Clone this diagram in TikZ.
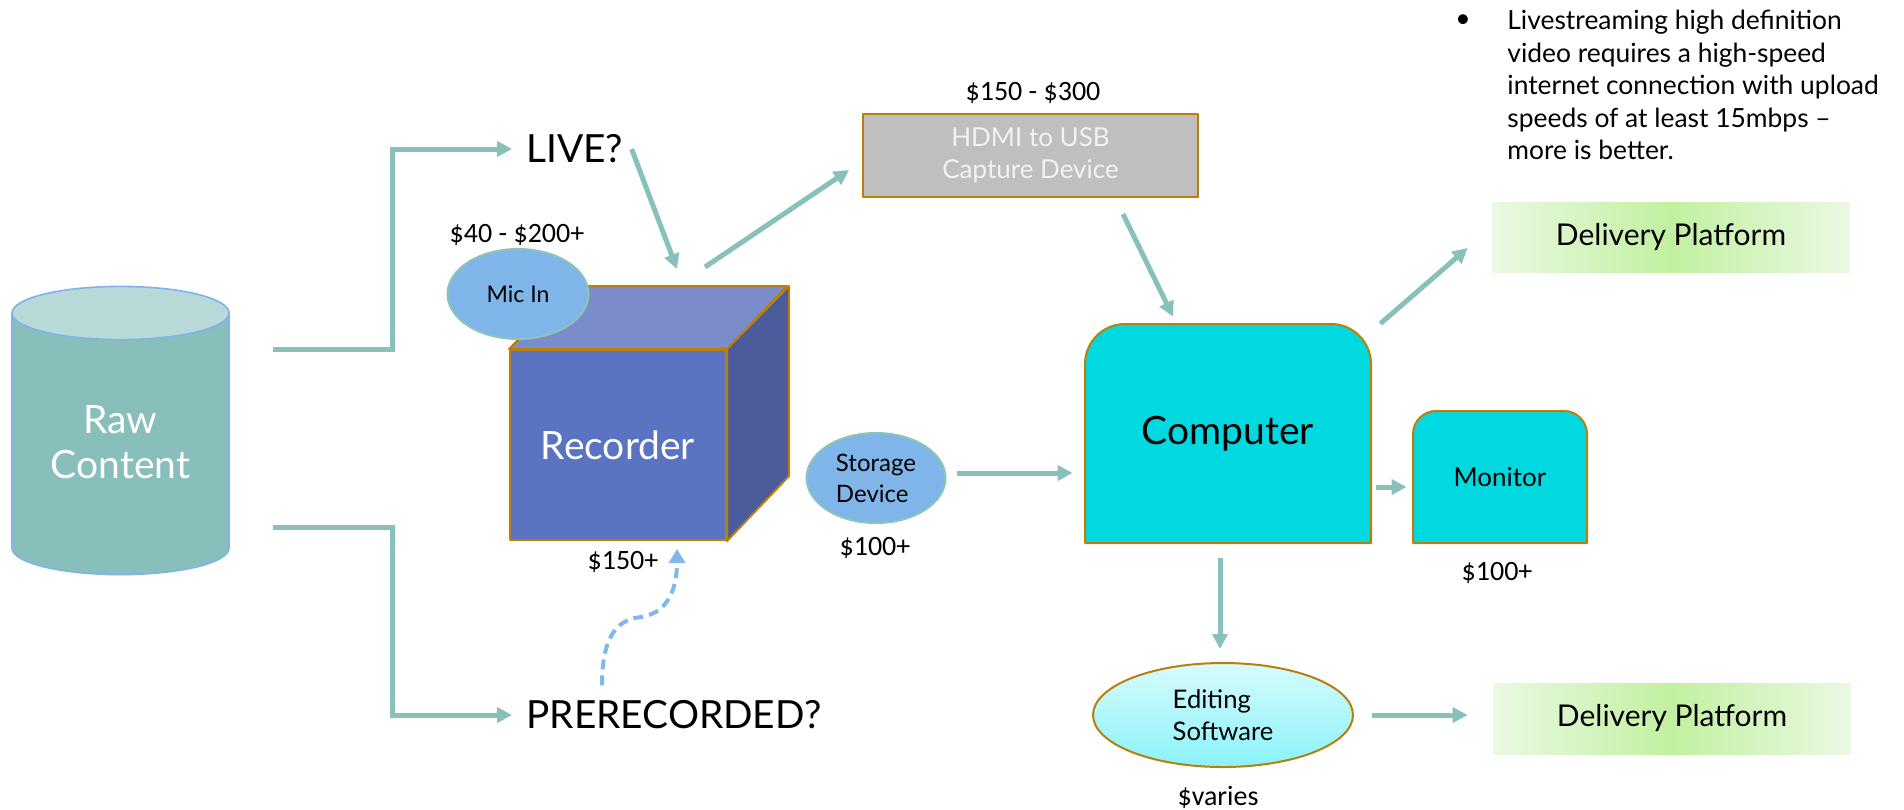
\documentclass[tikz,border=0pt]{standalone}
\usepackage{fontspec}
\setmainfont{Lato}
\newfontfamily\pricefont{Carlito}
\usetikzlibrary{arrows.meta,calc,shapes.geometric}
\definecolor{arrowc}{HTML}{88C0BA}
\definecolor{cylbody}{HTML}{88BFBA}
\definecolor{cyltop}{HTML}{B7D9D7}
\definecolor{cyledge}{HTML}{7FB3E9}
\definecolor{recfront}{HTML}{5B74C2}
\definecolor{rectop}{HTML}{7A8DCA}
\definecolor{recside}{HTML}{4A5C9B}
\definecolor{goldedge}{HTML}{BA7F0A}
\definecolor{micfill}{HTML}{80B5EA}
\definecolor{micedge}{HTML}{8CC4B8}
\definecolor{hdmifill}{HTML}{BFBFBF}
\definecolor{compfill}{HTML}{00D9E0}
\definecolor{edtop}{HTML}{D6FBFD}
\definecolor{edbot}{HTML}{8AF3F9}
\definecolor{dellight}{HTML}{EAF9E3}
\definecolor{delmid}{HTML}{C2F0A0}
\definecolor{dashc}{HTML}{80B8EE}
\begin{document}
\begin{tikzpicture}[x=0.5pt,y=-0.5pt,
  arr/.style={draw=arrowc,line width=2.5pt,-{Triangle[length=7.5pt,width=7.5pt]}},
  dasharr/.style={draw=dashc,line width=2pt,dash pattern=on 5pt off 3pt,-{Triangle[length=7pt,width=8pt]}},
  price/.style={inner sep=0pt,font=\pricefont\fontsize{14pt}{16pt}\selectfont},
  big/.style={inner sep=0pt,font=\fontsize{19.4pt}{22.5pt}\selectfont},
  goldline/.style={draw=goldedge,line width=1pt,line join=round},
  bubble/.style={ellipse,draw=micedge,line width=1pt,fill=micfill,inner sep=0pt},
  delbox/.style={left color=dellight,right color=dellight,middle color=delmid,
    minimum width=179pt,minimum height=35pt,inner sep=0pt,font=\fontsize{15pt}{17pt}\selectfont}
]
\useasboundingbox (0,0) rectangle (1904,809);
\fill[white] (0,0) rectangle (1904,809);

% Raw content cylinder
\fill[cylbody] (12,313) -- (12,548) arc[start angle=180,end angle=360,x radius=54.25pt,y radius=13.3pt] -- (229,313) -- cycle;
\draw[cyledge,line width=0.8pt] (12,313) -- (12,548) arc[start angle=180,end angle=360,x radius=54.25pt,y radius=13.3pt] -- (229,313);
\draw[cyledge,line width=0.8pt,fill=cyltop] (120.5,313) ellipse[x radius=54.25pt,y radius=13.3pt];
\node[text=white,align=center,minimum width=108.5pt,inner sep=0pt,font=\fontsize{19.5pt}{22.5pt}\selectfont] (raw) at (120.5,442) {Raw\\Content};

% Questions
\node[big,anchor=west] (live) at (526,149) {LIVE?};
\node[big,anchor=west] (prerec) at (526,715) {PRERECORDED?};

% Recorder cube
\node[goldline,fill=recfront,minimum width=108pt,minimum height=95pt,inner sep=0pt,text=white,
  font=\fontsize{19.5pt}{22pt}\selectfont] (rec) at (618,445) {Recorder};
\draw[goldline,fill=rectop] (rec.north west) -- ++(31pt,31.5pt) -- ++(108pt,0) -- (rec.north east) -- cycle;
\draw[goldline,fill=recside] (rec.north east) -- ++(31pt,31.5pt) -- ++(0,-95pt) -- (rec.south east) -- cycle;

% Mic In
\node[bubble,minimum width=70.5pt,minimum height=45pt,font=\fontsize{11.5pt}{14pt}\selectfont] (mic) at (518,294) {Mic In};
\node[price] (p1) at (517,235) {\$40 - \$200+};

% HDMI capture
\node[goldline,fill=hdmifill,minimum width=167.5pt,minimum height=41.5pt,inner sep=0pt,
  text=white!95!black,align=center,font=\fontsize{13pt}{16pt}\selectfont] (hdmi) at (1030.5,155.5) {HDMI to USB\\Capture Device};
\node[price] (p2) at (1033,93) {\$150 - \$300};

% Computer
\draw[goldline,fill=compfill] (1085,543) -- (1085,364) arc[start angle=180,end angle=90,radius=20pt]
  -- (1331,324) arc[start angle=90,end angle=0,radius=20pt] -- (1371,543) -- cycle;
\node[minimum width=143pt,minimum height=109.5pt,inner sep=0pt,font=\fontsize{19.5pt}{23pt}\selectfont] (comp) at (1228,433.5) {Computer};

% Monitor
\draw[goldline,fill=compfill] (1413,543) -- (1413,434) arc[start angle=180,end angle=90,radius=11.5pt]
  -- (1564,411) arc[start angle=90,end angle=0,radius=11.5pt] -- (1587,543) -- cycle;
\node[minimum width=87pt,minimum height=66pt,inner sep=0pt,font=\fontsize{13pt}{15pt}\selectfont] (mon) at (1500,477) {\raisebox{-2.5pt}{Monitor}};
\node[price] (p5) at (1497,573) {\$100+};

% Storage
\node[bubble,minimum width=69.5pt,minimum height=45pt,align=left,font=\fontsize{12pt}{15.5pt}\selectfont] (stor) at (876,478) {Storage\\Device};
\node[price] (p4) at (875,548) {\$100+};
\node[price] (p3) at (623,562) {\$150+};

% Editing software
\node[ellipse,goldline,top color=edtop,bottom color=edbot,minimum width=130pt,minimum height=52pt,inner sep=0pt,
  align=left,font=\fontsize{12.8pt}{16pt}\selectfont] (edit) at (1223,715) {Editing\\Software};
\node[price] (p6) at (1218,797) {\$varies};

% Delivery platforms
\node[delbox] (del1) at (1671,237) {Delivery Platform};
\node[delbox,minimum height=35.5pt] (del2) at (1672,718.5) {Delivery Platform};

% Note
\node[inner sep=0pt,font=\fontsize{13.2pt}{15.5pt}\selectfont] (bul) at (1463,21) {\textbullet};
\node[anchor=north west,inner sep=0pt,align=left,font=\fontsize{13.2pt}{16.2pt}\selectfont] (note) at (1507,10)
  {Livestreaming high definition\\video requires a high-speed\\internet connection with upload\\speeds of at least 15mbps –\\more is better.};

% Connectors
\draw[arr] ([xshift=22pt,yshift=46.5pt]raw.east) -- ++(59.5pt,0) |- ([xshift=-7pt]live.west);
\draw[arr] ([xshift=22pt,yshift=-42.5pt]raw.east) -- ++(59.5pt,0) |- ([xshift=-7pt]prerec.west);
\draw[arr] ([xshift=4pt]live.east) -- ([xshift=29.5pt,yshift=40pt]rec.north);
\draw[arr] ([xshift=43.5pt,yshift=41pt]rec.north) -- ([xshift=-6.5pt,yshift=-7.25pt]hdmi.west);
\draw[arr] ([xshift=46.25pt,yshift=-8pt]hdmi.south) -- ([xshift=-27.5pt,yshift=3.5pt]comp.north);
\draw[arr] ([xshift=5.25pt,yshift=2.5pt]stor.east) -- ([xshift=-6pt,yshift=-19.75pt]comp.west);
\draw[arr] ([xshift=2.5pt,yshift=-26.75pt]comp.east) -- ([xshift=-3pt,yshift=-5pt]mon.west);
\draw[arr] ([xshift=4.5pt]comp.north east) -- ([xshift=-12pt,yshift=-5.5pt]del1.west);
\draw[arr] ([xshift=-4pt,yshift=-7.5pt]comp.south) -- ([xshift=-1.5pt,yshift=6.5pt]edit.north);
\draw[arr] ([xshift=9pt]edit.east) -- ([xshift=-12.5pt,yshift=1.75pt]del2.west);

\coordinate (ds) at ([xshift=38pt,yshift=7.5pt]prerec.north west);
\coordinate (de) at ([xshift=29.5pt,yshift=-4pt]rec.south);
\draw[dasharr] (ds) .. controls +(0,-45) and +(-25,3) .. ($(ds)!.5!(de)$) .. controls +(25,-3) and +(0,45) .. (de);
\end{tikzpicture}
\end{document}
